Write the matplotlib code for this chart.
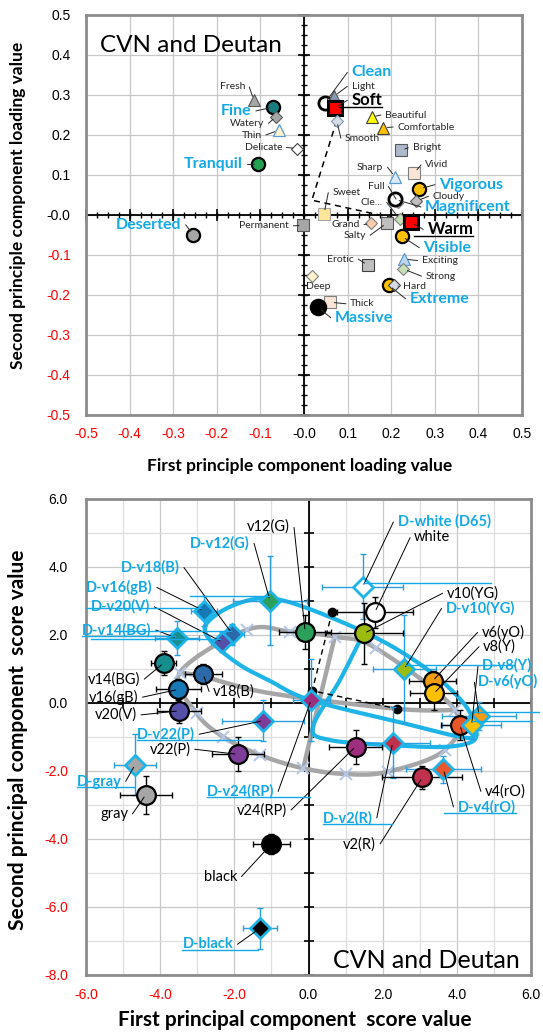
import numpy as np
import matplotlib.pyplot as plt
from matplotlib.lines import Line2D

plt.rcParams['font.family'] = ['Lato', 'DejaVu Sans']

# ---------------- upper chart: loading values of the words
words = ['Fresh', 'Fine', 'Watery', 'Thin', 'Delicate', 'Tranquil', 'Sweet',
         'Permanent', 'Deserted', 'Clean', 'Light', 'Soft', 'Smooth',
         'Beautiful', 'Comfortable', 'Bright', 'Sharp', 'Vivid', 'Vigorous',
         'Full', 'Magnificent', 'Cloudy', 'Cle...', 'Warm', 'Grand', 'Salty',
         'Visible', 'Exciting', 'Strong', 'Erotic', 'Extreme', 'Hard', 'Deep',
         'Thick', 'Massive']
load_1 = [-0.115, -0.070, -0.064, -0.058, -0.016, -0.106, 0.046, -0.002,
          -0.254, 0.048, 0.069, 0.071, 0.075, 0.155, 0.182, 0.222, 0.209,
          0.253, 0.264, 0.216, 0.209, 0.258, 0.220, 0.245, 0.154, 0.190,
          0.224, 0.229, 0.228, 0.147, 0.195, 0.206, 0.018, 0.060, 0.031]
load_2 = [0.287, 0.270, 0.246, 0.212, 0.166, 0.127, 0.003, -0.026, -0.049,
          0.280, 0.297, 0.268, 0.236, 0.245, 0.218, 0.162, 0.095, 0.105,
          0.065, 0.031, 0.039, 0.035, -0.011, -0.018, -0.021, -0.020, -0.053,
          -0.110, -0.135, -0.126, -0.176, -0.176, -0.153, -0.218, -0.230]

# dashed guide of the upper chart
guide_1 = [0.075, 0.018, 0.220]
guide_2 = [0.236, 0.037, -0.011]

# ---------------- lower chart: principal component scores of the colours
colours = ['v2(R)', 'v4(rO)', 'v6(yO)', 'v8(Y)', 'v10(YG)', 'v12(G)',
           'v14(BG)', 'v16(gB)', 'v18(B)', 'v20(V)', 'v22(P)', 'v24(RP)',
           'white', 'gray', 'black']
deutan_names = ['D-v2(R)', 'D-v4(rO)', 'D-v6(yO)', 'D-v8(Y)', 'D-v10(YG)',
                'D-v12(G)', 'D-v14(BG)', 'D-v16(gB)', 'D-v18(B)', 'D-v20(V)',
                'D-v22(P)', 'D-v24(RP)', 'D-white (D65)', 'D-gray', 'D-black']

cvn_1 = [3.07, 4.08, 3.35, 3.38, 1.50, -0.09, -3.91, -3.51, -2.84, -3.49,
         -1.91, 1.27, 1.79, -4.39, -1.00]
cvn_2 = [-2.19, -0.65, 0.65, 0.28, 2.05, 2.10, 1.17, 0.40, 0.85, -0.23,
         -1.51, -1.28, 2.67, -2.70, -4.15]
cvn_1_err = [1.08, 0.50, 0.63, 0.63, 1.05, 0.70, 0.35, 0.60, 0.50, 0.60,
             0.70, 0.72, 1.03, 0.70, 0.50]
cvn_2_err = [0.35, 0.45, 0.30, 0.50, 0.90, 0.50, 0.35, 0.30, 0.30, 0.35,
             0.50, 0.50, 0.45, 0.55, 0.30]

deu_1 = [2.27, 3.64, 4.60, 4.40, 2.58, -1.04, -3.54, -2.82, -2.05, -2.32,
         -1.22, 0.07, 1.46, -4.68, -1.31]
deu_2 = [-1.17, -1.95, -0.38, -0.65, 1.00, 3.01, 1.90, 2.71, 2.02, 1.79,
         -0.52, 0.09, 3.42, -1.82, -6.63]
deu_1_err = [1.00, 1.00, 1.00, 0.80, 0.85, 1.00, 0.60, 0.35, 0.30, 0.30,
             1.10, 0.50, 1.10, 0.56, 0.45]
deu_2_err = [1.05, 0.40, 0.40, 0.40, 1.60, 1.30, 0.50, 0.45, 0.30, 0.30,
             0.60, 1.20, 0.95, 0.90, 0.60]

# cross series and the grey hue loop drawn through it
cross_1 = [-3.47, -1.67, -0.50, 0.71, 1.82, 3.95, 3.68, 2.15, 1.01, -0.14,
           -1.31, -2.31, -3.02]
cross_2 = [0.89, 2.15, 2.10, 1.95, 1.61, -0.21, -1.38, -2.02, -2.09, -1.92,
           -1.53, -0.99, -0.30]
grey_chord_1 = [3.95, 2.39, -1.04, -2.84, -3.47]
grey_chord_2 = [-0.21, -0.17, 0.29, 0.78, 0.89]
grey_drop_1 = [0.71, 0.12, -0.14]
grey_drop_2 = [1.95, -0.71, -1.92]

# blue (deutan) hue loops
blue_big_1 = [-2.79, -2.33, -1.58, -0.90, 0.04, 1.50, 2.55, 3.47, 4.22, 4.51,
              4.30, 2.55, 0.04, -1.04, -1.85, -2.58]
blue_big_2 = [2.24, 2.71, 3.03, 3.06, 2.76, 2.09, 1.47, 0.76, -0.06, -0.74,
              -1.03, -0.59, 0.09, 0.65, 1.12, 1.76]
blue_narrow_1 = [1.50, 0.85, 0.12, 0.58, 2.25, 3.68, 4.44, 4.51]
blue_narrow_2 = [2.09, 0.68, -0.71, -1.09, -1.24, -1.29, -1.12, -0.74]

# dashed guide of the lower chart
dots_1 = [0.64, 0.10, 2.39]
dots_2 = [2.69, 0.36, -0.17]

# ---------------- styles
BLUE = '#14A9E6'

word_style = {
    'Fresh': ('^', '#A6A6A6', '#595959', 8.5, 0.8),
    'Fine': ('o', '#1B7C80', 'black', 9.5, 1.6),
    'Watery': ('D', '#A6A6A6', '#595959', 6.2, 0.8),
    'Thin': ('^', '#FFF2CC', '#5B9BD5', 8.5, 0.9),
    'Delicate': ('D', 'white', '#404040', 6.2, 0.8),
    'Tranquil': ('o', '#23A050', 'black', 9.5, 1.6),
    'Sweet': ('s', '#FFE699', '#A6A6A6', 8, 0.8),
    'Permanent': ('s', '#A6A6A6', '#595959', 8, 0.8),
    'Deserted': ('o', '#A6A6A6', 'black', 9.5, 1.6),
    'Clean': ('o', 'white', 'black', 9.5, 2.0),
    'Light': ('^', '#8497B0', '#595959', 8.5, 0.8),
    'Soft': ('s', 'red', 'black', 9.5, 2.2),
    'Smooth': ('D', '#D6DCE5', '#8497B0', 6.2, 0.8),
    'Beautiful': ('^', '#FFFF00', '#404040', 8.5, 0.8),
    'Comfortable': ('^', '#FFC000', '#404040', 8.5, 0.8),
    'Bright': ('s', '#ADB9CA', '#595959', 8, 0.8),
    'Sharp': ('^', '#DEEBF7', '#5B9BD5', 8.5, 0.9),
    'Vivid': ('s', '#FBE5D6', '#7F7F7F', 8, 0.8),
    'Vigorous': ('o', '#FFC000', 'black', 9.5, 1.6),
    'Full': ('D', '#F8CBAD', '#7F7F7F', 5.5, 0.8),
    'Magnificent': ('o', 'white', 'black', 9.5, 2.0),
    'Cloudy': ('D', '#BFBFBF', '#595959', 6.2, 0.8),
    'Cle...': ('D', '#C5E0B4', '#7F7F7F', 6.2, 0.8),
    'Warm': ('s', 'red', 'black', 9.5, 2.2),
    'Grand': ('D', '#F8CBAD', '#7F7F7F', 6.2, 0.8),
    'Salty': ('s', '#BFBFBF', '#595959', 8, 0.8),
    'Visible': ('o', '#FFC000', 'black', 9.5, 1.6),
    'Exciting': ('^', '#BDD7EE', '#5B9BD5', 8.5, 0.9),
    'Strong': ('D', '#C5E0B4', '#7F7F7F', 6.2, 0.8),
    'Erotic': ('s', '#BFBFBF', '#404040', 8, 0.8),
    'Extreme': ('o', '#FFC000', 'black', 9.5, 1.6),
    'Hard': ('D', '#D6DCE5', '#404040', 6.2, 0.8),
    'Deep': ('D', '#FFF2CC', '#7F7F7F', 6.2, 0.8),
    'Thick': ('s', '#FBE5D6', '#7F7F7F', 8, 0.8),
    'Massive': ('o', 'black', 'black', 11, 1.6),
}

# label place (x, y, ha, kind): s small, b blue, u underlined
word_label = {
    'Fresh': (-0.135, 0.321, 'right', 's'),
    'Fine': (-0.120, 0.260, 'right', 'b'),
    'Watery': (-0.091, 0.229, 'right', 's'),
    'Thin': (-0.097, 0.200, 'right', 's'),
    'Delicate': (-0.050, 0.169, 'right', 's'),
    'Tranquil': (-0.141, 0.127, 'right', 'b'),
    'Sweet': (0.065, 0.057, 'left', 's'),
    'Permanent': (-0.034, -0.027, 'right', 's'),
    'Deserted': (-0.281, -0.024, 'right', 'b'),
    'Clean': (0.109, 0.357, 'left', 'b'),
    'Light': (0.109, 0.322, 'left', 's'),
    'Soft': (0.109, 0.287, 'left', 'u'),
    'Smooth': (0.094, 0.191, 'left', 's'),
    'Beautiful': (0.186, 0.250, 'left', 's'),
    'Comfortable': (0.214, 0.220, 'left', 's'),
    'Bright': (0.249, 0.168, 'left', 's'),
    'Sharp': (0.182, 0.120, 'right', 's'),
    'Vivid': (0.278, 0.126, 'left', 's'),
    'Vigorous': (0.310, 0.076, 'left', 'b'),
    'Full': (0.184, 0.072, 'right', 's'),
    'Magnificent': (0.278, 0.020, 'left', 'b'),
    'Cloudy': (0.295, 0.047, 'left', 's'),
    'Cle...': (0.180, 0.032, 'right', 's'),
    'Warm': (0.283, -0.036, 'left', 'u'),
    'Grand': (0.128, -0.024, 'right', 's'),
    'Salty': (0.142, -0.051, 'right', 's'),
    'Visible': (0.274, -0.082, 'left', 'b'),
    'Exciting': (0.270, -0.114, 'left', 's'),
    'Strong': (0.279, -0.153, 'left', 's'),
    'Erotic': (0.115, -0.110, 'right', 's'),
    'Extreme': (0.243, -0.210, 'left', 'b'),
    'Hard': (0.226, -0.178, 'left', 's'),
    'Deep': (0.004, -0.178, 'left', 's'),
    'Thick': (0.106, -0.222, 'left', 's'),
    'Massive': (0.071, -0.257, 'left', 'b'),
}
no_leader = {'Deep'}

hue_face = ['#C0314D', '#E8582A', '#F39C12', '#FFC000', '#9BBB0F', '#2CA05A',
            '#178E8E', '#1679B5', '#2B69A8', '#5550A8', '#7D3C98', '#9E2F7F',
            'white', '#A6A6A6', 'black']

cvn_label = [(1.82, -4.15, 'right'), (4.76, -2.61, 'left'), (4.67, 2.08, 'left'),
             (4.71, 1.66, 'left'), (3.73, 3.23, 'left'), (-0.50, 5.18, 'right'),
             (-4.54, 0.70, 'right'), (-4.59, 0.17, 'right'), (-2.57, 0.33, 'left'),
             (-4.63, -0.35, 'right'), (-3.18, -1.36, 'right'),
             (-0.58, -3.15, 'right'), (2.85, 4.87, 'left'), (-4.86, -3.27, 'right'),
             (-1.92, -5.11, 'right')]
deu_label = [(1.73, -3.39, 'right'), (4.02, -3.07, 'left'), (4.58, 0.63, 'left'),
             (4.68, 1.10, 'left'), (3.70, 2.79, 'left'), (-1.58, 4.71, 'right'),
             (-4.23, 2.15, 'right'), (-4.20, 3.40, 'right'), (-3.47, 3.99, 'right'),
             (-4.27, 2.83, 'right'), (-3.06, -0.92, 'right'),
             (-0.93, -2.61, 'right'), (2.40, 5.33, 'left'), (-5.04, -2.31, 'right'),
             (-2.03, -7.10, 'right')]


def smooth(xs, ys, closed=False, n=24):
    # Catmull-Rom curve through the points, like a smoothed Excel line
    pts = np.column_stack([xs, ys]).astype(float)
    if closed:
        pts = np.vstack([pts[-1], pts, pts[0], pts[1]])
    else:
        pts = np.vstack([pts[0], pts, pts[-1]])
    out = []
    t = np.linspace(0, 1, n, endpoint=False)[:, None]
    for i in range(1, len(pts) - 2):
        p0, p1, p2, p3 = pts[i - 1], pts[i], pts[i + 1], pts[i + 2]
        out.append(0.5 * (2 * p1 + (-p0 + p2) * t
                          + (2 * p0 - 5 * p1 + 4 * p2 - p3) * t ** 2
                          + (-p0 + 3 * p1 - 3 * p2 + p3) * t ** 3))
    out.append(pts[-2][None])
    c = np.vstack(out)
    return c[:, 0], c[:, 1]


def dress(ax, lim_x, lim_y, major, minor, pads, tick_ms, minor_ms):
    ax.set_xlim(*lim_x)
    ax.set_ylim(*lim_y)
    xt = np.round(np.arange(lim_x[0], lim_x[1] + minor / 2, major), 2)
    yt = np.round(np.arange(lim_y[0], lim_y[1] + minor / 2, major), 2)
    ax.set_xticks(xt)
    ax.set_yticks(yt)
    ax.set_xticklabels([f'{v:.1f}' for v in xt])
    ax.set_yticklabels([f'{v:.1f}' for v in yt])
    for lbl, v in zip(ax.get_xticklabels(), xt):
        lbl.set_color('red' if v < 0 else 'black')
        lbl.set_fontfamily('Liberation Sans')
    for lbl, v in zip(ax.get_yticklabels(), yt):
        lbl.set_color('red' if v < 0 else 'black')
        lbl.set_fontfamily('Liberation Sans')
    ax.set_xticks(np.round(np.arange(lim_x[0], lim_x[1] + minor / 2, minor), 3), minor=True)
    ax.set_yticks(np.round(np.arange(lim_y[0], lim_y[1] + minor / 2, minor), 3), minor=True)
    ax.tick_params(which='both', length=0, labelsize=10)
    ax.tick_params(axis='x', pad=pads[0])
    ax.tick_params(axis='y', pad=pads[1])
    ax.grid(which='major', color='#C8C8C8', lw=0.9, zorder=0)
    ax.grid(which='minor', color='#DEDEDE', lw=0.9, zorder=0)
    ax.set_axisbelow(True)
    for sp in ax.spines.values():
        sp.set_color('#8C8C8C')
        sp.set_linewidth(2)
    # axes through the origin with crossing tick marks
    ax.axhline(0, color='black', lw=1.3, zorder=1)
    ax.axvline(0, color='black', lw=1.3, zorder=1)
    if tick_ms:
        xs = np.arange(lim_x[0], lim_x[1] + 1e-9, major)
        ys = np.arange(lim_y[0], lim_y[1] + 1e-9, major)
        ax.plot(xs, np.zeros_like(xs), ls='none', marker='|', ms=tick_ms, mew=1.2,
                color='black', zorder=1, clip_on=False)
        ax.plot(np.zeros_like(ys), ys, ls='none', marker='_', ms=tick_ms, mew=1.2,
                color='black', zorder=1, clip_on=False)
    if minor_ms:
        xs = np.arange(lim_x[0], lim_x[1] + 1e-9, minor_ms[0])
        ys = np.arange(lim_y[0], lim_y[1] + 1e-9, minor_ms[0])
        ax.plot(xs, np.zeros_like(xs), ls='none', marker='|', ms=minor_ms[1],
                mew=1.0, color='black', zorder=1, clip_on=False)
        ax.plot(np.zeros_like(ys), ys, ls='none', marker='_', ms=minor_ms[1],
                mew=1.0, color='black', zorder=1, clip_on=False)


fig = plt.figure(figsize=(5.43, 10.34), dpi=100)
ax1 = fig.add_axes([86 / 543, 1 - 415 / 1034, 436 / 543, 400 / 1034])
ax2 = fig.add_axes([86 / 543, 1 - 975 / 1034, 445 / 543, 476 / 1034])

underlined = []

# ---------------- upper chart
dress(ax1, (-0.5, 0.5), (-0.5, 0.5), 0.1, 0.1, (9, 11), 9, (0.025, 5))
ax1.plot(guide_1, guide_2, ls=(0, (4, 3)), color='black', lw=1.1, zorder=2)

for w, x, y in zip(words, load_1, load_2):
    mk, fc, ec, ms, mew = word_style[w]
    ax1.plot(x, y, marker=mk, ms=ms, mfc=fc, mec=ec, mew=mew, ls='none', zorder=4)
    lx, ly, ha, kind = word_label[w]
    if kind == 's':
        kw = dict(fontsize=7.5, color='#262626')
    elif kind == 'b':
        kw = dict(fontsize=11.5, color=BLUE, fontweight='bold')
    else:
        kw = dict(fontsize=12, color='black', fontweight='bold')
    if w in no_leader:
        t = ax1.text(lx, ly, w, ha=ha, va='center', zorder=5, **kw)
    else:
        t = ax1.annotate(w, xy=(x, y), xytext=(lx, ly), ha=ha, va='center',
                         zorder=5,
                         arrowprops=dict(arrowstyle='-', color='#262626', lw=0.7,
                                         shrinkA=1, shrinkB=3,
                                         relpos=(1, 0.5) if ha == 'right' else (0, 0.5),
                                         connectionstyle='arc,angleA=%d,armA=4,angleB=0,armB=0,rad=0'
                                         % (0 if ha == 'right' else 180)),
                         **kw)
    if kind == 'u':
        underlined.append(t)

ax1.text(0.032, 0.925, 'CVN and Deutan', transform=ax1.transAxes,
         fontsize=17.5, ha='left', va='center')

# ---------------- lower chart
dress(ax2, (-6, 6), (-8, 6), 2, 1, (9.5, 13), 0, None)
# tick marks at every unit on the origin axes
xs = np.arange(-6, 6.01, 1)
ys = np.arange(-8, 6.01, 1)
ax2.plot(xs, np.zeros_like(xs), ls='none', marker='|', ms=7, mew=1.2,
         color='black', zorder=1)
ax2.plot(np.zeros_like(ys), ys, ls='none', marker='_', ms=7, mew=1.2,
         color='black', zorder=1)

gx, gy = smooth(cross_1, cross_2, closed=True)
ax2.plot(gx, gy, color='#A6A6A6', lw=3.2, zorder=2, solid_capstyle='round')
gx, gy = smooth(grey_chord_1, grey_chord_2)
ax2.plot(gx, gy, color='#A6A6A6', lw=3.2, zorder=2, solid_capstyle='round')
gx, gy = smooth(grey_drop_1, grey_drop_2)
ax2.plot(gx, gy, color='#A6A6A6', lw=3.2, zorder=2, solid_capstyle='round')
ax2.plot(cross_1, cross_2, ls='none', marker='x', ms=8, mew=1.4,
         color='#B4C7E7', zorder=2)

bx, by = smooth(blue_big_1, blue_big_2, closed=True)
ax2.plot(bx, by, color='#1EB4E8', lw=3, zorder=2)
bx, by = smooth(blue_narrow_1, blue_narrow_2)
ax2.plot(bx, by, color='#1EB4E8', lw=3, zorder=2)

ax2.plot(dots_1, dots_2, ls=(0, (4, 3)), color='black', lw=1.0, zorder=3)
ax2.plot(dots_1, dots_2, ls='none', marker='o', ms=6, color='black', zorder=3)

ax2.errorbar(deu_1, deu_2, xerr=deu_1_err, yerr=deu_2_err, fmt='none',
             ecolor='#2A9FE0', elinewidth=1.0, capsize=2.5, capthick=1.0, zorder=3)
ax2.errorbar(cvn_1, cvn_2, xerr=cvn_1_err, yerr=cvn_2_err, fmt='none',
             ecolor='black', elinewidth=1.0, capsize=2.5, capthick=1.0, zorder=3)

for i in range(len(colours)):
    ax2.plot(cvn_1[i], cvn_2[i], marker='o', ms=13.5, mfc=hue_face[i],
             mec='black', mew=1.6, ls='none', zorder=4)
    ax2.plot(deu_1[i], deu_2[i], marker='D', ms=10, mfc=hue_face[i],
             mec='#1EB4E8', mew=2, ls='none', zorder=4)


def leader(ax, text, xy, place, **kw):
    lx, ly, ha = place
    return ax.annotate(text, xy=xy, xytext=(lx, ly), ha=ha, va='center', zorder=6,
                       annotation_clip=False,
                       arrowprops=dict(arrowstyle='-', color='black', lw=0.7,
                                       shrinkA=1, shrinkB=2,
                                       relpos=(1, 0.5) if ha == 'right' else (0, 0.5),
                                       connectionstyle='arc,angleA=%d,armA=4,angleB=0,armB=0,rad=0'
                                       % (0 if ha == 'right' else 180)),
                       **kw)


for i, name in enumerate(colours):
    leader(ax2, name, (cvn_1[i], cvn_2[i]), cvn_label[i], fontsize=10.5, color='black')
for i, name in enumerate(deutan_names):
    t = leader(ax2, name, (deu_1[i], deu_2[i]), deu_label[i], fontsize=10.5,
               color=BLUE, fontweight='bold')
    underlined.append(t)

ax2.text(0.975, 0.03, 'CVN and Deutan', transform=ax2.transAxes,
         fontsize=18, ha='right', va='center')

# ---------------- axis titles
fig.text(300 / 543, 1 - 466 / 1034, 'First principle component loading value',
         ha='center', va='center', fontsize=12.5, fontweight='bold')
fig.text(18 / 543, 1 - 205 / 1034, 'Second principle component loading value',
         ha='center', va='center', rotation=90, fontsize=12.5, fontweight='bold')
fig.text(295 / 543, 1 - 1020 / 1034, 'First principal component  score value',
         ha='center', va='center', fontsize=15, fontweight='bold')
fig.text(18 / 543, 1 - 740 / 1034, 'Second principal component  score value',
         ha='center', va='center', rotation=90, fontsize=15, fontweight='bold')

# underline the marked labels
fig.canvas.draw()
r = fig.canvas.get_renderer()
for t in underlined:
    bb = t.get_window_extent(r)
    y = (bb.y0 + 1.5) / fig.bbox.height
    fig.add_artist(Line2D([bb.x0 / fig.bbox.width, bb.x1 / fig.bbox.width], [y, y],
                          transform=fig.transFigure, color=t.get_color(), lw=1.0))

fig.savefig('out.png', dpi=100)
